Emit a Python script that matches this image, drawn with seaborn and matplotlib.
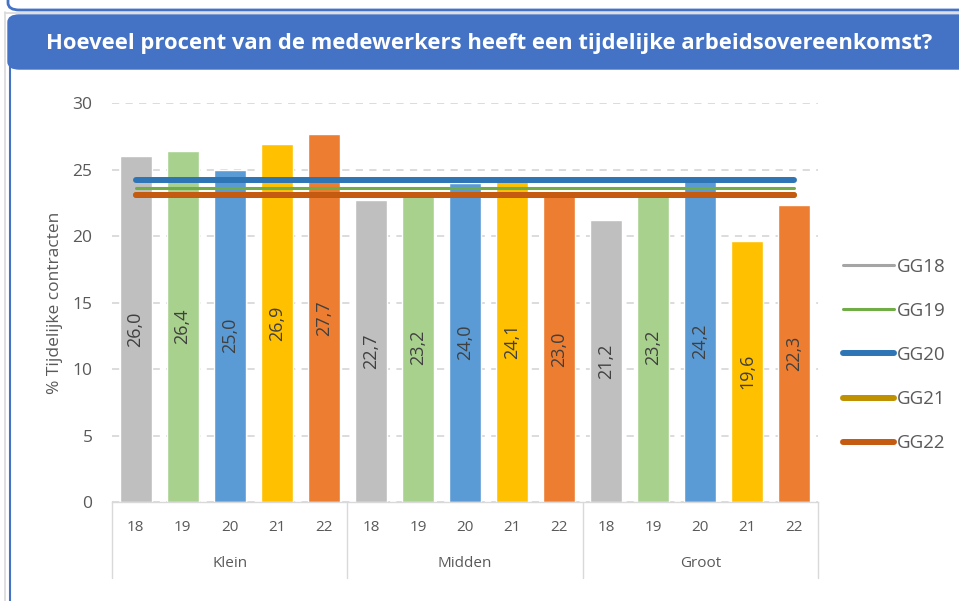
import matplotlib
matplotlib.use("Agg")
import matplotlib.pyplot as plt
import matplotlib.transforms as mtransforms
from matplotlib.patches import FancyBboxPatch
from matplotlib.lines import Line2D
import seaborn as sns
import pandas as pd

sns.set_theme(style="white")
plt.rcParams['font.family'] = ['Open Sans', 'DejaVu Sans']

groups = ["Klein", "Midden", "Groot"]
years = ["18", "19", "20", "21", "22"]
klein = [26.0, 26.4, 25.0, 26.9, 27.7]
midden = [22.7, 23.2, 24.0, 24.1, 23.0]
groot = [21.2, 23.2, 24.2, 19.6, 22.3]
series_names = ["GG18", "GG19", "GG20", "GG21", "GG22"]
series_avgs = [24.2, 23.6, 24.2, 23.1, 23.1]

bar_colors = ["#BFBFBF", "#A9D18E", "#5B9BD5", "#FFC000", "#ED7D31"]
line_colors = ["#A5A5A5", "#70AD47", "#2E75B6", "#BF9000", "#C55A11"]
line_widths = [2.2, 2.2, 4.3, 4.3, 4.3]

rows = []
for g, vals in zip(groups, [klein, midden, groot]):
    for y, v in zip(years, vals):
        rows.append({"key": f"{g}-{y}", "group": g, "year": y, "value": v})
df = pd.DataFrame(rows)
order = list(df["key"])

W, H = 959, 601
fig = plt.figure(figsize=(W / 100, H / 100), dpi=100)

def fx(px):
    return px / W

def fy(py):
    return 1 - py / H

top_box = FancyBboxPatch((fx(8), fy(10)), fx(1000), fy(-40) - fy(10),
                         boxstyle="round,pad=0,rounding_size=0.012",
                         transform=fig.transFigure, facecolor="none",
                         edgecolor="#4472C4", lw=2.0, zorder=0)
fig.patches.append(top_box)
fig.add_artist(Line2D([fx(5), fx(5)], [0, fy(12)], transform=fig.transFigure,
                      color="#D9D9D9", lw=1.2))
fig.add_artist(Line2D([fx(5), fx(959)], [fy(12.5), fy(12.5)], transform=fig.transFigure,
                      color="#D9D9D9", lw=1.2))
fig.add_artist(Line2D([fx(10), fx(10)], [0, fy(60)], transform=fig.transFigure,
                      color="#4472C4", lw=1.5))
title_box = FancyBboxPatch((fx(8), fy(69)), fx(1000), fy(15) - fy(69),
                           boxstyle="round,pad=0,rounding_size=0.012",
                           transform=fig.transFigure, facecolor="#4472C4",
                           edgecolor="#4472C4", lw=1.0)
fig.patches.append(title_box)
fig.text(fx(489), fy(43), "Hoeveel procent van de medewerkers heeft een tijdelijke arbeidsovereenkomst?",
         color="white", fontsize=15.8, fontweight="bold", ha="center", va="center")

ax = fig.add_axes([fx(112), fy(502), fx(818) - fx(112), fy(103) - fy(502)])

sns.barplot(data=df, x="key", y="value", hue="year", order=order,
            palette=bar_colors, dodge=False, width=0.68, ax=ax,
            saturation=1, legend=False, zorder=2)

ax.set_xlim(-0.5, len(order) - 0.5)
ax.set_ylim(0, 30)
ax.set_yticks([0, 5, 10, 15, 20, 25, 30])
ax.yaxis.grid(True, color="#D9D9D9", lw=1.3, linestyle=(0, (4, 3.5)), zorder=0)
ax.set_axisbelow(True)
for s in ["top", "right", "left"]:
    ax.spines[s].set_visible(False)
ax.spines["bottom"].set_color("#D9D9D9")
ax.spines["bottom"].set_linewidth(1.0)
ax.tick_params(axis="y", length=0, labelsize=12.5, labelcolor="#595959", pad=14)
ax.tick_params(axis="x", length=0, labelsize=11, labelcolor="#595959", pad=13)
ax.set_xticks(range(len(order)))
ax.set_xticklabels(list(df["year"]))
ax.set_xlabel("")
ax.set_ylabel("% Tijdelijke contracten", fontsize=12.5, color="#595959", labelpad=7)

for i, v in enumerate(df["value"]):
    ax.text(i, v / 2, f"{v:.1f}".replace(".", ","), rotation=90, ha="center", va="center",
            fontsize=13, color="#404040", zorder=5)

handles = []
for name, avg, c, lw in zip(series_names, series_avgs, line_colors, line_widths):
    ln, = ax.plot([0, len(order) - 1], [avg, avg], color=c, lw=lw,
                  solid_capstyle="round", zorder=4, label=name)
    handles.append(ln)

trans = mtransforms.blended_transform_factory(ax.transData, ax.transAxes)
for xb in [-0.5, 4.5, 9.5, 14.5]:
    ax.plot([xb, xb], [0, -0.19], transform=trans, color="#D9D9D9", lw=1.0, clip_on=False)
for gi, g in enumerate(groups):
    ax.text(gi * 5 + 2, -0.155, g, transform=trans, ha="center", va="center",
            fontsize=11, color="#595959")

leg = fig.legend(handles=handles, loc="center left", bbox_to_anchor=(fx(843), fy(355)),
                 frameon=False, fontsize=13.5, labelspacing=1.4, handlelength=2.7,
                 handletextpad=0.2, borderpad=0, borderaxespad=0)
for t in leg.get_texts():
    t.set_color("#595959")

fig.savefig("out.png", dpi=100)
